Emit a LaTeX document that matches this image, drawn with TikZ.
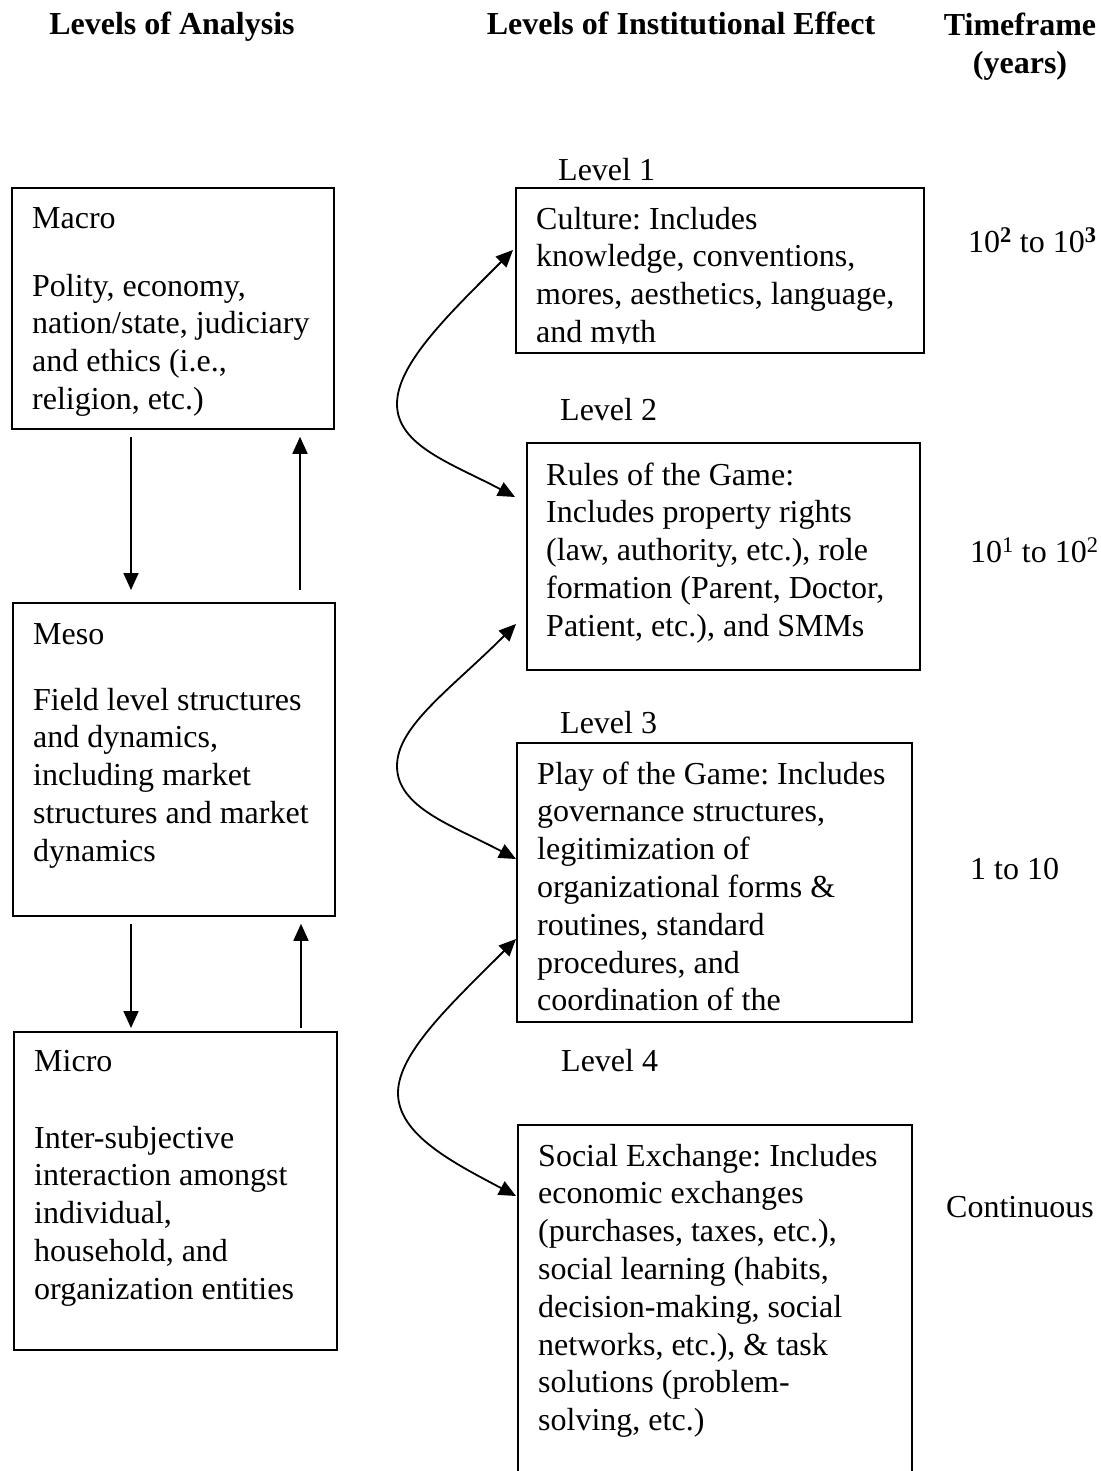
\documentclass[tikz,border=0pt]{standalone}
\usepackage{fontspec}
\setmainfont{Liberation Serif}
\usetikzlibrary{arrows.meta}
\frenchspacing
\begin{document}
\begin{tikzpicture}[x=1pt,y=-1pt,
  box/.style={draw, line width=1.8pt, anchor=north west, inner sep=0pt},
  txt/.style={anchor=north west, inner sep=0pt, align=left, font=\fontsize{32}{37.8}\selectfont},
  lbl/.style={anchor=base west, inner sep=0pt, font=\fontsize{32}{37.8}\selectfont},
  head/.style={inner sep=0pt, font=\fontsize{32}{38}\selectfont\bfseries},
  arr/.style={line width=1.8pt, -{Triangle[length=17pt,width=15pt]}},
  darr/.style={line width=1.8pt, {Triangle[length=17pt,width=15pt]}-{Triangle[length=17pt,width=15pt]}}]
\useasboundingbox (0,0) rectangle (1100,1471);
\clip (0,0) rectangle (1100,1471);

% headings
\node[head, anchor=base] (hA) at (172,35) {Levels of Analysis};
\node[head, anchor=base] (hB) at (681,35) {Levels of Institutional Effect};
\node[head, anchor=north, align=center] (hC) at (1020,8.4) {\strut Timeframe\\(years)};

% left boxes
\node[box, minimum width=322pt, minimum height=241pt] (macro) at (11,187) {};
\node[box, minimum width=322pt, minimum height=313pt] (meso) at (12,602) {};
\node[box, minimum width=323pt, minimum height=318pt] (micro) at (13,1031) {};

\node[lbl] (macroT) at (32,229) {Macro};
\node[txt] (macroB) at (32,269.5) {\strut Polity, economy,\\nation/state, judiciary\\and ethics (i.e.,\\religion, etc.)};
\node[lbl] (mesoT) at (33,644) {Meso};
\node[txt] (mesoB) at (33,683.5) {\strut Field level structures\\and dynamics,\\including market\\structures and market\\dynamics};
\node[lbl] (microT) at (34,1071) {Micro};
\node[txt] (microB) at (34,1121.5) {\strut Inter-subjective\\interaction amongst\\individual,\\household, and\\organization entities};

% right boxes
\node[box, minimum width=408pt, minimum height=165pt] (l1) at (515,187) {};
\node[box, minimum width=393pt, minimum height=227pt] (l2) at (526,442) {};
\node[box, minimum width=395pt, minimum height=279pt] (l3) at (516,742) {};
\node[box, minimum width=394pt, minimum height=420pt] (l4) at (517,1124) {};

\node[lbl] (lv1) at (558,181) {Level 1};
\node[lbl] (lv2) at (560,420) {Level 2};
\node[lbl] (lv3) at (560,733) {Level 3};
\node[lbl] (lv4) at (561,1071) {Level 4};

\begin{scope}
\clip (516,188) rectangle (922,343);
\node[txt] (l1T) at (536,202.5) {\strut Culture: Includes\\knowledge, conventions,\\mores, aesthetics, language,\\and myth};
\end{scope}
\node[txt] (l2T) at (546,458.5) {\strut Rules of the Game:\\Includes property rights\\(law, authority, etc.), role\\formation (Parent, Doctor,\\Patient, etc.), and SMMs};
\node[txt] (l3T) at (537,757.5) {\strut Play of the Game: Includes\\governance structures,\\legitimization of\\organizational forms \&\\routines, standard\\procedures, and\\coordination of the};
\node[txt] (l4T) at (538,1139.5) {\strut Social Exchange: Includes\\economic exchanges\\(purchases, taxes, etc.),\\social learning (habits,\\decision-making, social\\networks, etc.), \& task\\solutions (problem-\\solving, etc.)};

% timeframes
\node[lbl] (t1) at (968,252) {10\textsuperscript{\textbf{2}} to 10\textsuperscript{\textbf{3}}};
\node[lbl] (t2) at (970,562) {10\textsuperscript{1} to 10\textsuperscript{2}};
\node[lbl] (t3) at (970,879) {1 to 10};
\node[lbl] (t4) at (946,1217) {Continuous};

% vertical arrows
\draw[arr] ([xshift=120pt,yshift=-7pt]macro.south west) -- ([xshift=119pt,yshift=12pt]meso.north west);
\draw[arr] ([xshift=288pt,yshift=12pt]meso.north west) -- ([xshift=289pt,yshift=-7pt]macro.south west);
\draw[arr] ([xshift=119pt,yshift=-7pt]meso.south west) -- ([xshift=118pt,yshift=3pt]micro.north west);
\draw[arr] ([xshift=288pt,yshift=3pt]micro.north west) -- ([xshift=289pt,yshift=-7pt]meso.south west);

% curved arrows
\coordinate (a1) at ([xshift=-2pt,yshift=-63pt]l1.north west);
\coordinate (a2) at ([xshift=-11pt,yshift=-55pt]l2.north west);
\coordinate (a3) at ([xshift=-10pt,yshift=-182pt]l2.north west);
\coordinate (a4) at ([xshift=0pt,yshift=-117pt]l3.north west);
\coordinate (a5) at ([xshift=0pt,yshift=-197pt]l3.north west);
\coordinate (a6) at ([xshift=-1pt,yshift=-72pt]l4.north west);
\coordinate (m1) at (397,404);
\coordinate (m2) at (397,766);
\coordinate (m3) at (398,1093);

\draw[darr] (a1) .. controls +(-65,65) and +(0,-40) .. (m1) .. controls +(0,42) and +(-62,-33) .. (a2);
\draw[darr] (a3) .. controls +(-65,65) and +(0,-40) .. (m2) .. controls +(0,42) and +(-62,-33) .. (a4);
\draw[darr] (a5) .. controls +(-65,65) and +(0,-40) .. (m3) .. controls +(0,42) and +(-62,-33) .. (a6);
\end{tikzpicture}
\end{document}
